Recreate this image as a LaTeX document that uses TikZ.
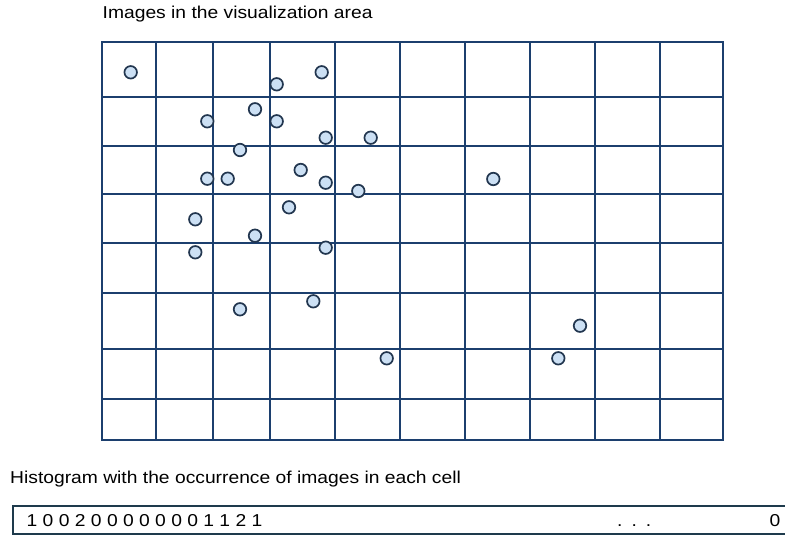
\documentclass[tikz,border=0pt]{standalone}
\usepackage{fontspec}
\setmainfont{Liberation Sans}[FakeStretch=1.12]
\definecolor{gridc}{HTML}{1C3F6E}
\definecolor{dotfill}{HTML}{CCE0F4}
\definecolor{dotline}{HTML}{22364F}
\definecolor{boxline}{HTML}{1E3A4C}
\begin{document}
\begin{tikzpicture}[x=1pt,y=-1pt,
  gridline/.style={draw=gridc,line width=1.8pt},
  imgdot/.style={circle,draw=dotline,fill=dotfill,line width=1.7pt,minimum size=12.5pt,inner sep=0pt},
  lbl/.style={inner sep=0pt,anchor=base west,font=\fontsize{17.2}{20}\selectfont}]
\useasboundingbox (0,0) rectangle (785,537);
\clip (0,0) rectangle (785,537);
% grid
\foreach \x in {155.7,212.7,270,335,400,465,530,595,660}
  \draw[gridline] (\x,41.7) -- (\x,440);
\foreach \y in {96.7,146,194.3,243.3,292.7,349.3,399.3}
  \draw[gridline] (101.7,\y) -- (722.7,\y);
\draw[gridline] (101.7,41.7) rectangle (722.7,440);
% images
\foreach \n/\px/\py in {1/130.7/72.3,2/321.7/72.3,3/276.7/84.3,4/255/109.3,5/207.3/121.3,
  6/276.7/121.3,7/325.7/137.7,8/370.7/137.7,9/240/150,10/300.7/170,11/207.3/178.7,
  12/227.7/178.7,13/325.7/182.7,14/358.3/191,15/289/207.3,16/195.3/219.3,17/255/235.7,
  18/195.3/252.3,19/325.7/247.7,20/240/309.3,21/313.3/301.3,22/386.7/358.3,
  23/493.3/179,24/580/325.7,25/558.3/358.3}
  \node[imgdot] (c\n) at (\px,\py) {};
% texts
\node[lbl] (title) at (102.5,18.3) {Images in the visualization area};
\node[lbl] (histlabel) at (10,483.3) {Histogram with the occurrence of images in each cell};
\draw[draw=boxline,line width=1.8pt] (13.3,506) rectangle (800,534.3);
\node[lbl] (digits) at (26.5,526.3) {1 0 0 2 0 0 0 0 0 0 0 1 1 2 1};
\node[lbl] (dots) at (617,526.3) {.\hspace{9pt}.\hspace{9pt}.};
\node[lbl,anchor=base east] (last) at (780.5,526.3) {0};
\end{tikzpicture}
\end{document}
